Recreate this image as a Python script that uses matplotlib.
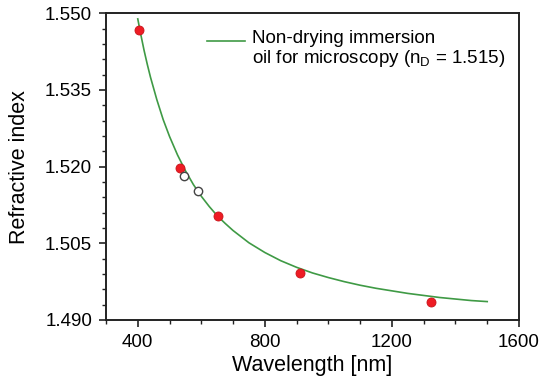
import matplotlib
matplotlib.use("Agg")
import matplotlib.pyplot as plt
from matplotlib.ticker import MultipleLocator, FormatStrFormatter

plt.rcParams["font.family"] = ["Liberation Sans", "DejaVu Sans"]
plt.rcParams["mathtext.fontset"] = "custom"
plt.rcParams["mathtext.rm"] = "Liberation Sans"

# measured points (red) and reference lines (open)
meas_nm = [404.7, 533, 653, 912, 1323]
meas_n = [1.5467, 1.5198, 1.5103, 1.4992, 1.4936]
ref_nm = [546.1, 589.3]
ref_n = [1.5182, 1.5152]

# fitted dispersion curve
curve_nm = [400, 410, 420, 430, 440, 460, 480, 500, 525, 550, 575, 600,
            625, 650, 675, 700, 750, 800, 850, 900, 950, 1000, 1050, 1100,
            1150, 1200, 1250, 1300, 1350, 1400, 1450, 1500]
curve_n = [1.5489, 1.5457, 1.5427, 1.5400, 1.5375, 1.5331, 1.5292, 1.5259,
           1.5223, 1.5192, 1.5165, 1.5142, 1.5122, 1.5104, 1.5089, 1.5075,
           1.5051, 1.5032, 1.5016, 1.5003, 1.4992, 1.4983, 1.4975, 1.4968,
           1.4962, 1.4957, 1.4952, 1.4948, 1.4944, 1.4941, 1.4938, 1.4936]

y_ticks = [1.490, 1.505, 1.520, 1.535, 1.550]
x_ticks = [400, 800, 1200, 1600]

label = "Non-drying immersion\noil for microscopy ($\\mathrm{n_D}$ = 1.515)"
GREEN = "#3f9a45"

fig = plt.figure(figsize=(5.4, 3.84), dpi=100)
ax = fig.add_axes([0.1963, 0.1667, 0.9611 - 0.1963, 0.9654 - 0.1667])

ax.plot(curve_nm, curve_n, color=GREEN, lw=1.2)
ax.plot(meas_nm, meas_n, "o", ms=6.5, mfc="#ee1c24", mec="#c8141a", mew=0.6)
ax.plot(ref_nm, ref_n, "o", ms=6, mfc="white", mec="#444444", mew=1.0)

# legend drawn by hand: the sample line sits level with the first text line
ax.plot([0.2446, 0.3366], [0.910, 0.910], color=GREEN, lw=1.2,
        transform=ax.transAxes)
ax.text(0.3535, 0.945, label, transform=ax.transAxes, fontsize=13.5,
        ha="left", va="top", linespacing=1.07)

ax.set_xlim(300, 1600)
ax.set_ylim(1.490, 1.550)
ax.set_xticks(x_ticks)
ax.set_yticks(y_ticks)
ax.xaxis.set_minor_locator(MultipleLocator(100))
ax.yaxis.set_minor_locator(MultipleLocator(0.003, offset=1.490 % 0.003))
ax.yaxis.set_major_formatter(FormatStrFormatter("%.3f"))

for s in ax.spines.values():
    s.set_linewidth(1.4)
    s.set_color("#222222")
ax.tick_params(which="major", direction="out", length=5, width=1.2,
               labelsize=13.5, color="#222222", pad=5)
ax.tick_params(which="minor", direction="out", length=3, width=1.0,
               color="#222222")

ax.set_xlabel("Wavelength [nm]", fontsize=15.5, labelpad=3)
ax.set_ylabel("Refractive index", fontsize=15.5, labelpad=11)

fig.savefig("out.png", dpi=100)
